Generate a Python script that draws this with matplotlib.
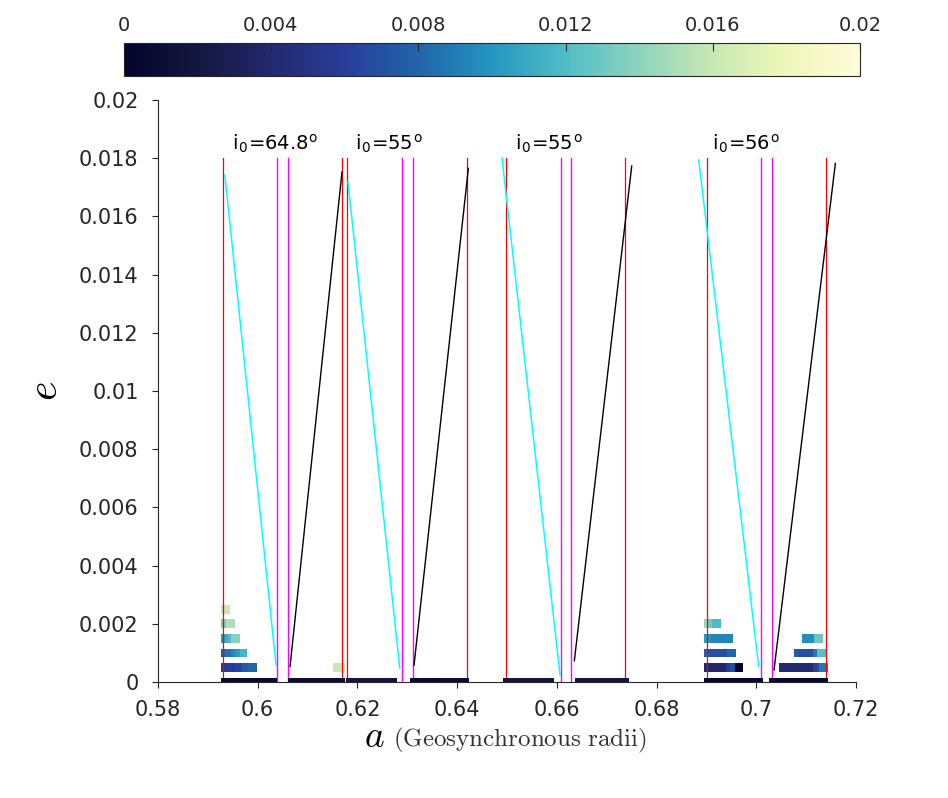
import matplotlib
matplotlib.use("Agg")
import matplotlib.pyplot as plt
from matplotlib.colors import LinearSegmentedColormap, Normalize
from matplotlib.cm import ScalarMappable
from matplotlib.ticker import FixedLocator, FuncFormatter

plt.rcParams['mathtext.fontset'] = 'cm'
plt.rcParams['font.family'] = ['DejaVu Sans']

# ---------------- data ----------------
x_ticks = [0.58, 0.60, 0.62, 0.64, 0.66, 0.68, 0.70, 0.72]
y_ticks = [0, 0.002, 0.004, 0.006, 0.008, 0.010, 0.012, 0.014, 0.016, 0.018, 0.020]
cbar_ticks = [0, 0.004, 0.008, 0.012, 0.016, 0.020]

# vertical boundary lines (a values), drawn from e=0 to e=line_top_e
red_a = [0.5931, 0.6168, 0.6180, 0.6419, 0.6498, 0.6737, 0.6902, 0.7139]
magenta_a = [0.6038, 0.6061, 0.6289, 0.6312, 0.6608, 0.6629, 0.7009, 0.7032]
line_top_e = 0.018

# descending (cyan) boundaries
cyan_a_top = [0.5934, 0.6181, 0.6490, 0.68845]
cyan_e_top = [0.01742, 0.01718, 0.01800, 0.01794]
cyan_a_bot = [0.60367, 0.62848, 0.66063, 0.70048]
cyan_e_bot = [0.00058, 0.00048, 0.00024, 0.00053]

# ascending (black) boundaries
black_a_bot = [0.60648, 0.63135, 0.66350, 0.70355]
black_e_bot = [0.00053, 0.00058, 0.00073, 0.00041]
black_a_top = [0.61690, 0.64224, 0.67501, 0.71585]
black_e_top = [0.01753, 0.01765, 0.01773, 0.01782]

# group labels
incl_labels = ['64.8', '55', '55', '56']
label_a = [0.5948, 0.6195, 0.6516, 0.6911]
label_e = 0.01828

# coloured cells: left edge, right edge, eccentricity row, value
cell_a0 = [0.59264, 0.60607, 0.61771, 0.63054, 0.63656, 0.64914, 0.66364, 0.68951, 0.70255,
           0.59264, 0.59410, 0.59544, 0.59679, 0.59811, 0.61510,
           0.68951, 0.69392, 0.69473, 0.69563, 0.70455, 0.71143, 0.71211, 0.71258,
           0.59264, 0.59344, 0.59464, 0.59544, 0.59645,
           0.68951, 0.69037, 0.69406, 0.70756, 0.70842, 0.71143, 0.71211,
           0.59264, 0.59344, 0.59398, 0.59464,
           0.68951, 0.69071, 0.70917, 0.71157,
           0.59264, 0.59364, 0.68951, 0.69005, 0.69106,
           0.59264]
cell_a1 = [0.60381, 0.61751, 0.62788, 0.63656, 0.64238, 0.65943, 0.67447, 0.70128, 0.71438,
           0.59410, 0.59544, 0.59679, 0.59811, 0.59980, 0.61751,
           0.69392, 0.69473, 0.69563, 0.69727, 0.71143, 0.71211, 0.71258, 0.71432,
           0.59344, 0.59464, 0.59544, 0.59645, 0.59779,
           0.69037, 0.69406, 0.69593, 0.70842, 0.71143, 0.71211, 0.71398,
           0.59344, 0.59398, 0.59464, 0.59645,
           0.69071, 0.69527, 0.71157, 0.71332,
           0.59364, 0.59544, 0.69005, 0.69106, 0.69292,
           0.59444]
cell_e = [0.0] * 9 + [0.0005] * 14 + [0.001] * 12 + [0.0015] * 8 + [0.002] * 5 + [0.0025]
cell_val = [0.0006, 0.0009, 0.0018, 0.0006, 0.0010, 0.0018, 0.0018, 0.0003, 0.0004,
            0.0055, 0.0060, 0.0064, 0.0075, 0.0080, 0.0160,
            0.0038, 0.0058, 0.0068, 0.0002, 0.0040, 0.0060, 0.0068, 0.0088,
            0.0078, 0.0086, 0.0094, 0.0103, 0.0115,
            0.0078, 0.0070, 0.0080, 0.0078, 0.0070, 0.0088, 0.0122,
            0.0103, 0.0110, 0.0118, 0.0138,
            0.0103, 0.0094, 0.0097, 0.0128,
            0.0135, 0.0150, 0.0143, 0.0130, 0.0118,
            0.0160]

# ---------------- style ----------------
cmap = LinearSegmentedColormap.from_list('ylgnbu_dark', [
    (0.00, '#04042c'), (0.10, '#14173f'), (0.20, '#23296e'), (0.30, '#283d98'),
    (0.40, '#2164aa'), (0.50, '#2596c0'), (0.60, '#4fbdc6'), (0.70, '#8dd3bd'),
    (0.80, '#c8e8b4'), (0.90, '#eef6b8'), (1.00, '#fffcdc')])
norm = Normalize(vmin=0, vmax=0.02)
txt_color = '#262626'

fig = plt.figure(figsize=(9.48, 7.98), dpi=100)
ax = fig.add_axes([0.1667, 0.1454, 0.7363, 0.7293])

# cells
for a0, a1, e, v in zip(cell_a0, cell_a1, cell_e, cell_val):
    ax.bar(a0, 0.0003, width=a1 - a0, bottom=e - 0.00015, align='edge',
           color=cmap(norm(v)), linewidth=0, zorder=4 if e == 0 else 2)

# boundary lines
for a in red_a:
    ax.plot([a, a], [0, line_top_e], color='red', lw=0.9, zorder=3)
for a in magenta_a:
    ax.plot([a, a], [0, line_top_e], color='magenta', lw=1.0, zorder=3)
for at, et, ab, eb in zip(cyan_a_top, cyan_e_top, cyan_a_bot, cyan_e_bot):
    ax.plot([at, ab], [et, eb], color='cyan', lw=1.1, zorder=3)
for ab, eb, at, et in zip(black_a_bot, black_e_bot, black_a_top, black_e_top):
    ax.plot([ab, at], [eb, et], color='black', lw=1.0, zorder=3)

for lab, a in zip(incl_labels, label_a):
    ax.text(a, label_e, r'i$_\mathregular{0}$=' + lab + r'$^\mathregular{o}$',
            fontsize=14, color='black', ha='left', va='baseline', zorder=5)

ax.set_xlim(0.58, 0.72)
ax.set_ylim(0, 0.02)
ax.xaxis.set_major_locator(FixedLocator(x_ticks))
ax.yaxis.set_major_locator(FixedLocator(y_ticks))
fmt = FuncFormatter(lambda v, p: '%g' % round(v, 6))
ax.xaxis.set_major_formatter(fmt)
ax.yaxis.set_major_formatter(fmt)
ax.tick_params(direction='out', length=4, width=0.8, labelsize=15,
               colors=txt_color, pad=10)
ax.tick_params(axis='x', pad=9)
for s in ['top', 'right']:
    ax.spines[s].set_visible(False)
for s in ['left', 'bottom']:
    ax.spines[s].set_color(txt_color)
    ax.spines[s].set_linewidth(0.8)

ax.set_ylabel(r'$e$', fontsize=30, color='black')
ax.yaxis.set_label_coords(-0.132, 0.5)
fig.text(0.3835, 0.0643, r'$a$', fontsize=27, ha='left', va='baseline')
fig.text(0.4146, 0.0643, r'$\mathrm{(Geosynchronous\ radii)}$', fontsize=18,
         ha='left', va='baseline', color='#333333')

# colorbar
cax = fig.add_axes([0.1303, 0.9048, 0.7771, 0.0413])
sm = ScalarMappable(norm=norm, cmap=cmap)
cb = fig.colorbar(sm, cax=cax, orientation='horizontal', ticks=cbar_ticks)
cb.ax.xaxis.set_ticks_position('top')
cb.ax.xaxis.set_label_position('top')
cb.ax.xaxis.set_major_formatter(fmt)
cb.ax.tick_params(axis='x', direction='in', length=6, width=0.8, labelsize=14,
                  colors=txt_color, top=True, bottom=False, labeltop=True,
                  labelbottom=False, pad=6)
cb.outline.set_linewidth(0.8)
cb.outline.set_edgecolor(txt_color)

fig.savefig('out.png', dpi=100)
